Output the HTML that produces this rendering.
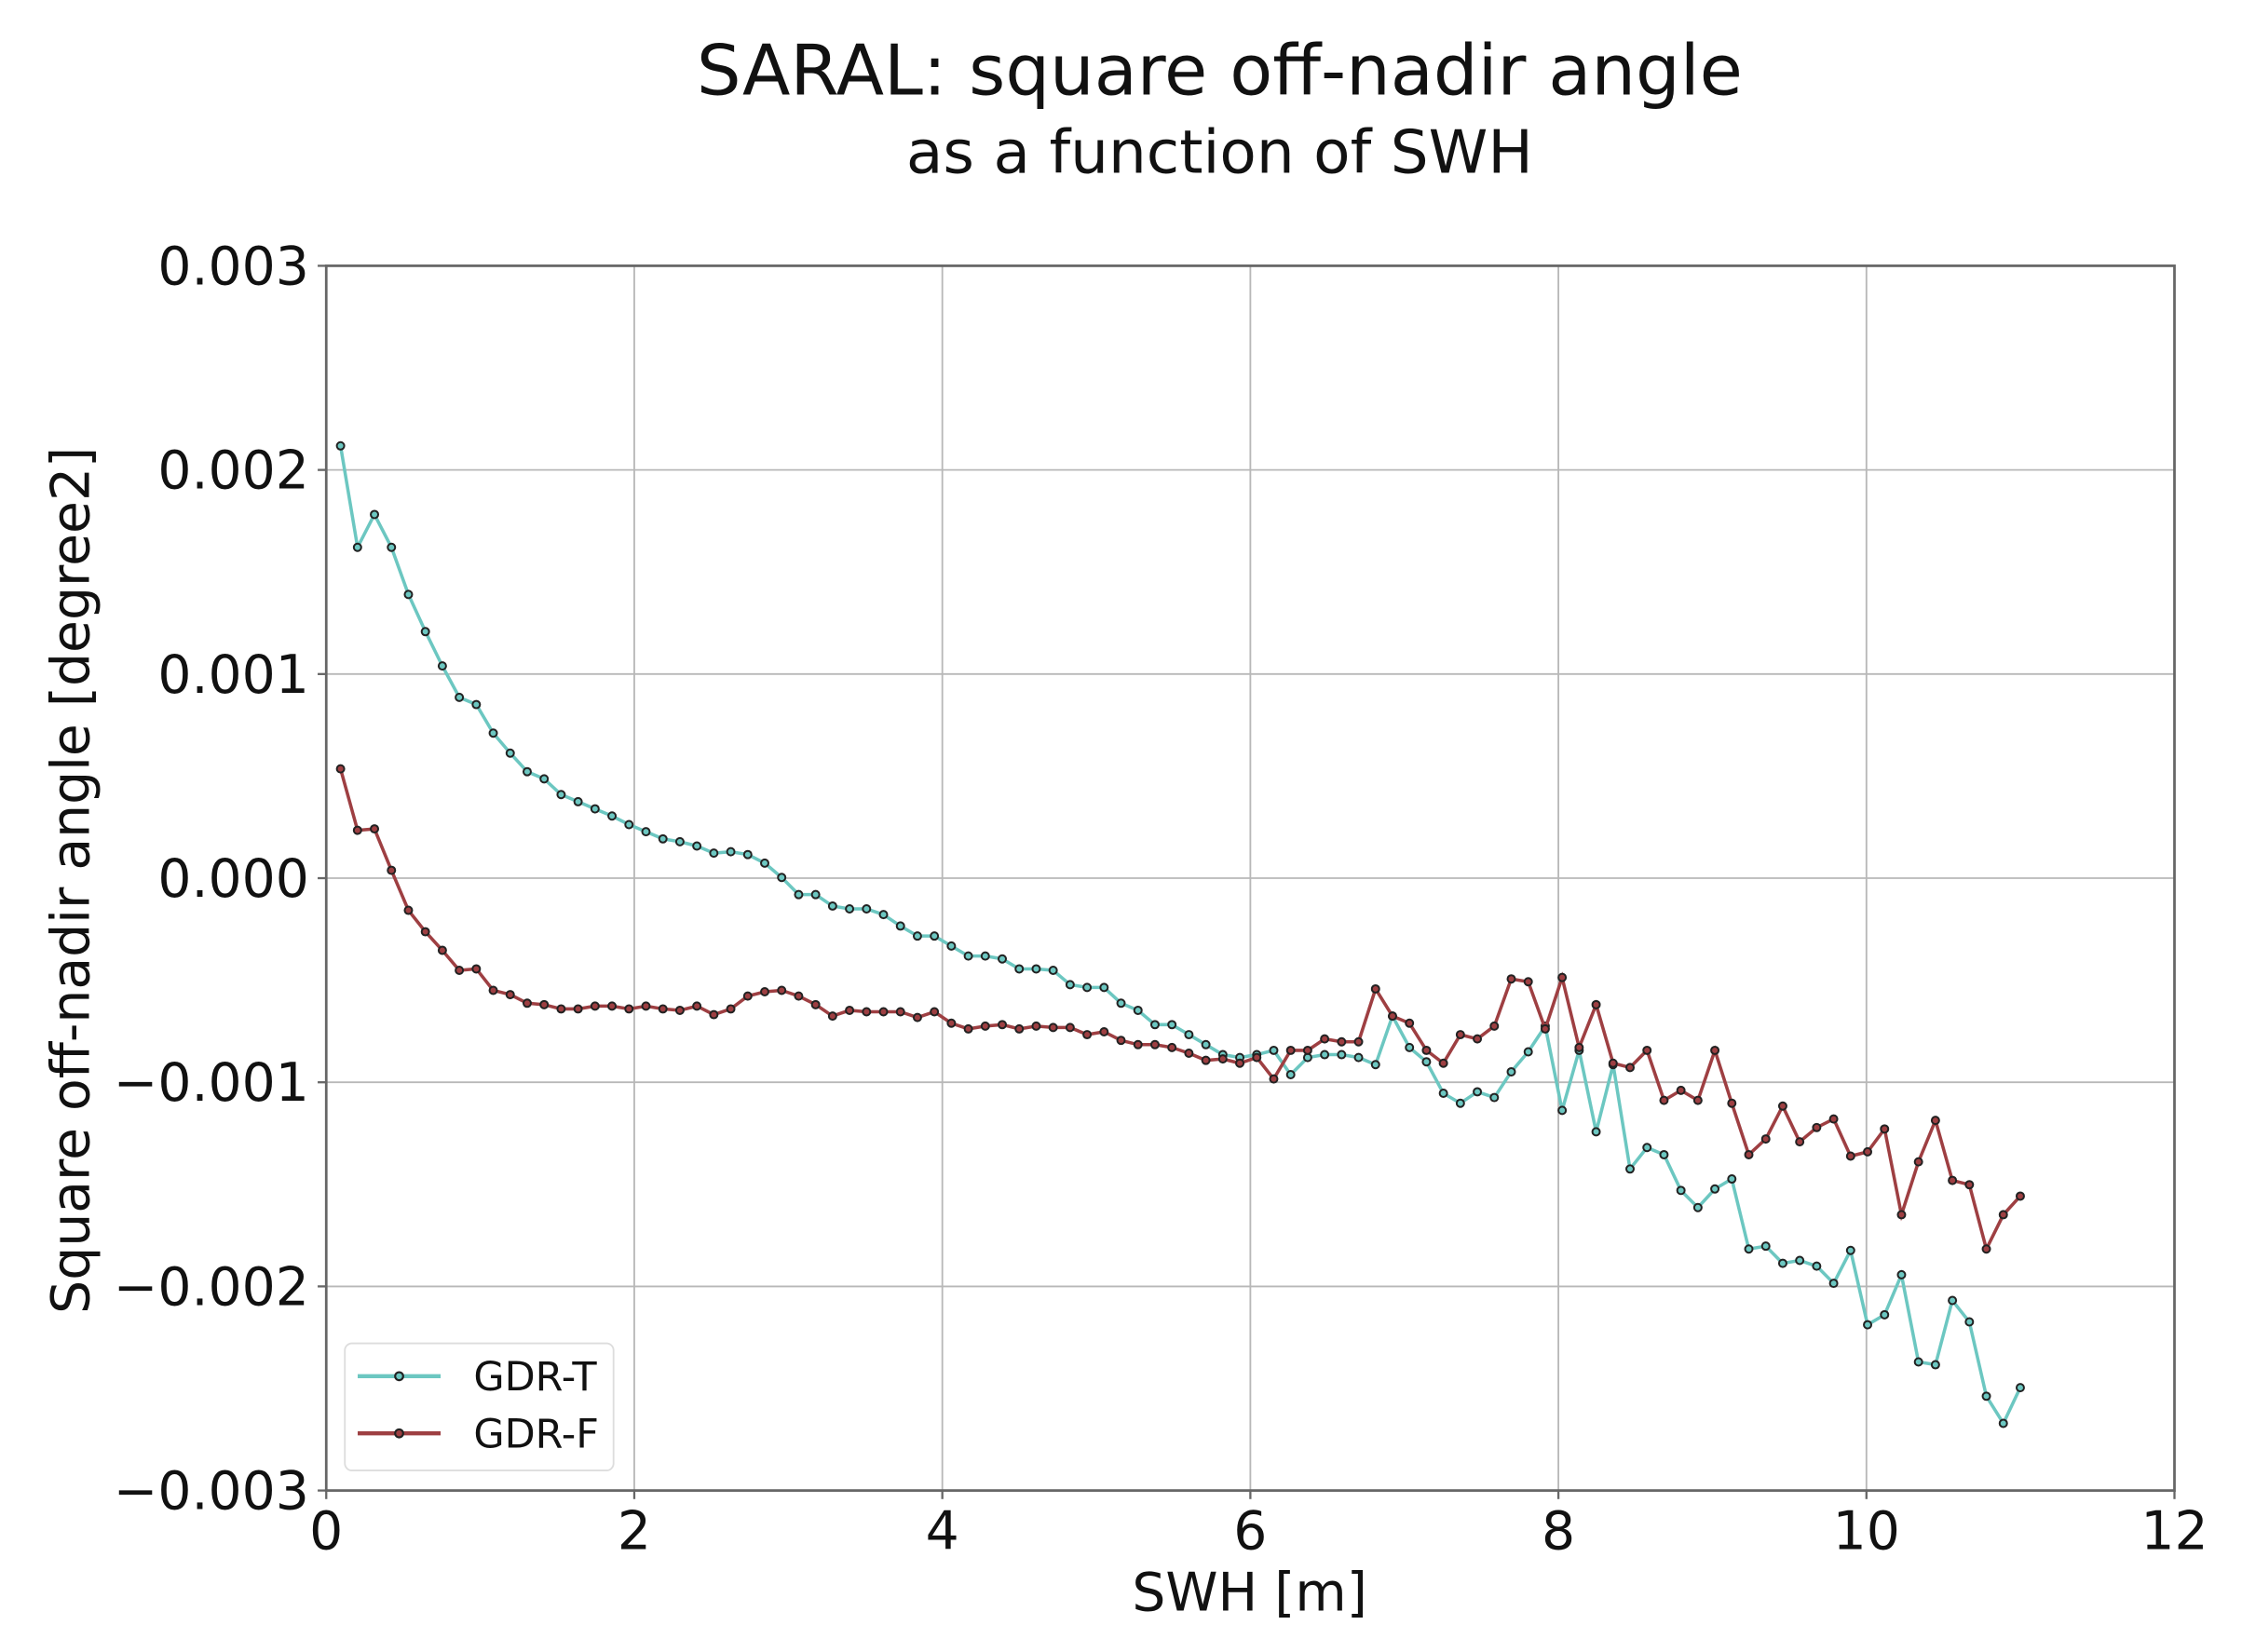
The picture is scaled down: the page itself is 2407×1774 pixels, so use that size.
<!DOCTYPE html>
<html><head><meta charset="utf-8"><style>
html,body{margin:0;padding:0;background:#fff;}
svg{display:block;font-family:"DejaVu Sans","Liberation Sans",sans-serif;}
</style></head><body>
<svg id="s" width="2407" height="1774" viewBox="0 0 1568 1156" xmlns="http://www.w3.org/2000/svg">
<rect width="1568" height="1156" fill="#fff"/>
<text x="853" y="66" font-size="49" text-anchor="middle" fill="#111">SARAL: square off-nadir angle</text>
<text x="853" y="121" font-size="42" text-anchor="middle" fill="#111">as a function of SWH</text>
<g id="grid" stroke="#b8b8b8" stroke-width="1.2"></g>
<g id="ticks" font-size="37" fill="#111"></g>
<rect x="228" y="186" width="1293" height="857" fill="none" stroke="#666" stroke-width="1.8"/>
<g id="series"></g>
<text x="874" y="1127" font-size="37" text-anchor="middle" fill="#111">SWH [m]</text>
<text transform="translate(62,616) rotate(-90)" font-size="37" text-anchor="middle" fill="#111">Square off-nadir angle [degree2]</text>
<rect x="241" y="940" width="188" height="89" rx="5" fill="#fff" fill-opacity="0.9" stroke="#ddd" stroke-width="1.2"/>
<line x1="250" y1="963" x2="308" y2="963" stroke="#6cc7c1" stroke-width="2.8"/>
<circle cx="279" cy="963" r="2.8" fill="#6cc7c1" stroke="#222" stroke-width="1.4"/>
<line x1="250" y1="1003" x2="308" y2="1003" stroke="#9e3f42" stroke-width="2.8"/>
<circle cx="279" cy="1003" r="2.8" fill="#9e3f42" stroke="#222" stroke-width="1.4"/>
<text x="331" y="973" font-size="28" fill="#111">GDR-T</text>
<text x="331" y="1013" font-size="28" fill="#111">GDR-F</text>
</svg>
<script>
var NS="http://www.w3.org/2000/svg";
function el(p,t,a,txt){var e=document.createElementNS(NS,t);for(var k in a)e.setAttribute(k,a[k]);if(txt!==undefined)e.textContent=txt;p.appendChild(e);return e;}
var g=document.getElementById('grid'),tk=document.getElementById('ticks');
var L=228,R=1521,T=186,B=1043;
for(var i=0;i<=6;i++){var x=L+i*(R-L)/6;el(g,'line',{x1:x,y1:T,x2:x,y2:B});
 el(tk,'line',{x1:x,y1:B,x2:x,y2:B+6,stroke:'#666','stroke-width':1.5});
 el(tk,'text',{x:x,y:B+41,'text-anchor':'middle'},String(i*2));}
var yl=['0.003','0.002','0.001','0.000','\u22120.001','\u22120.002','\u22120.003'];
for(var j=0;j<=6;j++){var y=T+j*(B-T)/6;el(g,'line',{x1:L,y1:y,x2:R,y2:y});
 el(tk,'line',{x1:L-6,y1:y,x2:L,y2:y,stroke:'#666','stroke-width':1.5});
 el(tk,'text',{x:L-12,y:y+13,'text-anchor':'end'},yl[j]);}
var teal=[312,383,360,383,416,442,466,488,493,513,527,540,545,556,561,566,571,577,582,587,589,592,597,596,
598,604,614,626,626,634,636,636,640,648,655,655,662,669,669,671,678,678,679,689,691,691,702,707,717,717,724,731,738,740,738,735,752,740,738,738,740,745,711,733,743,765,772,764,768,750,736,718,777,735,792,745,818,803,808,833,845,832,825,874,872,884,882,886,898,875,927,920,892,953,955,910,925,977,996,971];
var red=[538,581,580,609,637,652,665,679,678,693,696,702,703,706,706,704,704,706,704,706,707,704,710,706,697,694,693,697,703,711,707,708,708,708,712,708,716,720,718,717,
720,718,719,719,724,722,728,731,731,733,737,742,741,744,740,
755,735,735,727,729,729,692,711,716,735,744,724,727,718,685,687,720,684,733,703,744,747,735,770,763,770,735,772,808,797,774,799,789,783,809,806,790,850,813,784,826,829,874,850,837];
var s=document.getElementById('series');
function draw(d,c){var pts=d.map(function(v,i){return (238+i*11.87).toFixed(1)+','+v;}).join(' ');
 el(s,'polyline',{points:pts,fill:'none',stroke:c,'stroke-width':2.3});
 d.forEach(function(v,i){el(s,'circle',{cx:238+i*11.87,cy:v,r:2.6,fill:c,stroke:'#222','stroke-width':1.3});});}
draw(teal,'#6cc7c1');draw(red,'#9e3f42');
</script>
</body></html>
